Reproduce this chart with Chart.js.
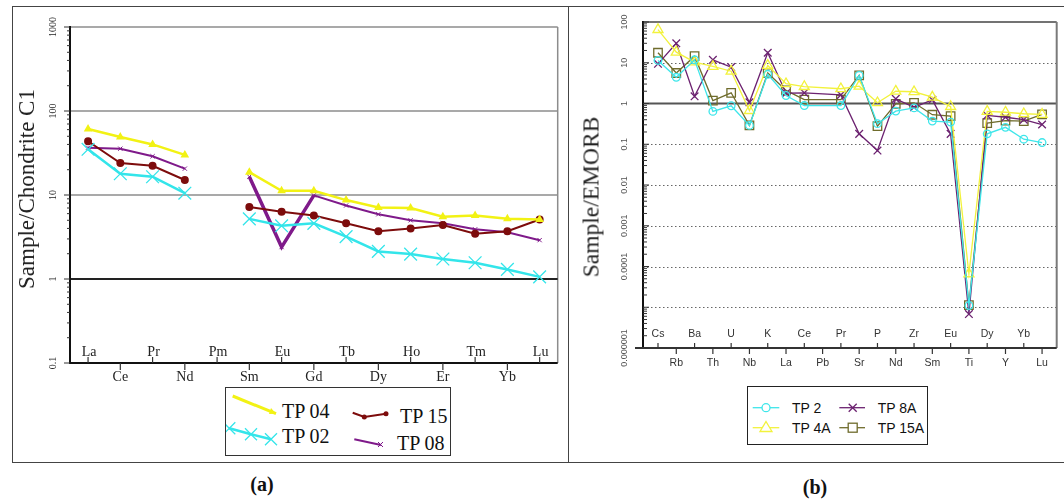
<!DOCTYPE html>
<html>
<head>
<meta charset="utf-8">
<script src="https://cdn.jsdelivr.net/npm/chart.js@4.4.1/dist/chart.umd.min.js"></script>
<style>
body{margin:0;width:1064px;height:503px;background:#fff;position:relative;overflow:hidden;font-family:"Liberation Serif",serif;color:#111;}
.ln{position:absolute;background:#444;}
.box{position:absolute;}
.ytitle{position:absolute;transform:translate(-50%,-50%) rotate(-90deg);white-space:nowrap;color:#222;}
.leg{position:absolute;border:1px solid #333;box-sizing:border-box;background:#fff;}
.leg svg{position:absolute;left:0;top:0;}
.leg span{position:absolute;white-space:nowrap;}
.cap{position:absolute;transform:translate(-50%,-50%);font-weight:bold;font-size:20px;}
</style>
</head>
<body>
<div class="ln" style="left:12px;top:6px;width:1052px;height:1px"></div>
<div class="ln" style="left:12px;top:6px;width:1px;height:457px"></div>
<div class="ln" style="left:568px;top:6px;width:1px;height:457px"></div>
<div class="ln" style="left:12px;top:462px;width:1052px;height:1px"></div>

<div class="box" style="left:13px;top:8px;width:555px;height:377px"><canvas id="ca"></canvas></div>
<div class="box" style="left:569px;top:8px;width:495px;height:372px"><canvas id="cb"></canvas></div>

<div class="ytitle" style="left:27px;top:189px;font-size:23px">Sample/Chondrite C1</div>
<div class="ytitle" style="left:591px;top:197px;font-size:23.5px">Sample/EMORB</div>

<div class="leg" style="left:225px;top:387px;width:226px;height:69px;font-size:20px">
  <svg width="226" height="69">
    <polyline points="6.7,8 50,25.7" stroke="#F2F214" stroke-width="3" fill="none"/>
    <polygon points="50,25.7 45,20 43,26" fill="#F2F214"/>
    <polyline points="3.3,40.3 25,46.3 45,51.3" stroke="#33E5EA" stroke-width="2.5" fill="none"/>
    <path d="M-2.7,34.3l12,12M9.3,34.3l-12,12M19,40.3l12,12M31,40.3l-12,12M39,45.3l12,12M51,45.3l-12,12" stroke="#33E5EA" stroke-width="1.3"/>
    <polyline points="126.7,24.7 138.3,29 160,25.7" stroke="#7D0C0C" stroke-width="2" fill="none"/>
    <circle cx="138.3" cy="29" r="2.5" fill="#7D0C0C"/>
    <circle cx="160" cy="25.7" r="2.5" fill="#7D0C0C"/>
    <polyline points="128.3,51.3 155,57" stroke="#7F1A8A" stroke-width="2" fill="none"/>
    <path d="M152,54l5,5M157,54l-5,5" stroke="#7F1A8A" stroke-width="1"/>
  </svg>
  <span style="left:56px;top:11px;line-height:24px">TP 04</span>
  <span style="left:56px;top:36px;line-height:24px">TP 02</span>
  <span style="left:174px;top:16px;line-height:24px">TP 15</span>
  <span style="left:171px;top:43px;line-height:24px">TP 08</span>
</div>

<div class="leg" style="left:747px;top:386px;width:181px;height:59px;font-family:'Liberation Sans',sans-serif;font-size:14px;border-color:#222">
  <svg width="181" height="59">
    <line x1="4.7" y1="20.7" x2="31.3" y2="20.7" stroke="#3EE6EA" stroke-width="1.3"/>
    <circle cx="18" cy="20.7" r="4" fill="#fff" stroke="#3EE6EA" stroke-width="1.3"/>
    <line x1="91.3" y1="20.7" x2="117" y2="20.7" stroke="#6C2270" stroke-width="1.3"/>
    <path d="M100.7,16.7l8,8M108.7,16.7l-8,8" stroke="#6C2270" stroke-width="1.3"/>
    <line x1="4.7" y1="40.7" x2="31.3" y2="40.7" stroke="#F2F23C" stroke-width="1.3"/>
    <polygon points="18,34.5 24,44.5 12,44.5" fill="#fff" stroke="#F2F23C" stroke-width="1.3"/>
    <line x1="91.3" y1="40.7" x2="117" y2="40.7" stroke="#6F6C2C" stroke-width="1.3"/>
    <rect x="100.2" y="36.2" width="9" height="9" fill="#fff" stroke="#6F6C2C" stroke-width="1.3"/>
  </svg>
  <span style="left:44px;top:12px;line-height:18px">TP 2</span>
  <span style="left:129.7px;top:12px;line-height:18px">TP 8A</span>
  <span style="left:44px;top:32px;line-height:18px">TP 4A</span>
  <span style="left:129.7px;top:32px;line-height:18px">TP 15A</span>
</div>

<div class="cap" style="left:262px;top:484px">(a)</div>
<div class="cap" style="left:815px;top:487px">(b)</div>

<script>
// (a) chondrite-normalised REE
const reeLabels = ['La', 'Ce', 'Pr', 'Nd', 'Pm', 'Sm', 'Eu', 'Gd', 'Tb', 'Dy', 'Ho', 'Er', 'Tm', 'Yb', 'Lu'];
const tp04 = [61, 49, 40, 30, null, 18.7, 11.2, 11.2, 8.7, 7.1, 7.0, 5.5, 5.7, 5.2, 5.1];
const tp02 = [35, 17.9, 16.5, 10.5, null, 5.2, 4.3, 4.6, 3.2, 2.13, 1.98, 1.73, 1.56, 1.30, 1.06];
const tp15 = [43.6, 24, 22.3, 15.1, null, 7.2, 6.3, 5.7, 4.6, 3.7, 4.0, 4.4, 3.46, 3.7, 5.1];
const tp08 = [36.6, 35.6, 28.9, 20.6, null, 16.5, 2.4, 9.9, 7.5, 5.9, 5.0, 4.6, 3.9, 3.6, 2.9];
const yTicksA = [0.1, 1, 10, 100, 1000];
const yTextA = ['0.1', '1', '10', '100', '1000'];

// (b) EMORB-normalised spider diagram
const traceLabels = ['Cs', 'Rb', 'Ba', 'Th', 'U', 'Nb', 'K', 'La', 'Ce', 'Pb', 'Pr', 'Sr', 'P', 'Nd', 'Zr', 'Sm', 'Eu', 'Ti', 'Dy', 'Y', 'Yb', 'Lu'];
const tp2 = [11.4, 4.4, 11.8, 0.64, 0.88, 0.29, 5.2, 1.57, 0.89, null, 0.89, 4.9, 0.32, 0.65, 0.78, 0.37, 0.35, 1.1e-5, 0.18, 0.26, 0.133, 0.11];
const tp4a = [65, 18.2, 10.4, 8.1, 6.2, 0.67, 8.6, 3.05, 2.6, null, 2.3, 2.66, 1.04, 2.0, 1.94, 1.43, 0.84, 6.6e-5, 0.64, 0.61, 0.56, 0.54];
const tp8a = [9.4, 30, 1.5, 11.8, 7.8, 1.07, 17.6, 1.79, 1.83, null, 1.63, 0.18, 0.07, 1.3, 0.81, 1.23, 0.18, 6.8e-6, 0.51, 0.46, 0.40, 0.305];
const tp15a = [17.6, 5.6, 14.5, 1.18, 1.83, 0.29, 5.6, 2.09, 1.25, null, 1.25, 4.9, 0.277, 0.98, 1.04, 0.53, 0.49, 1.13e-5, 0.33, 0.38, 0.37, 0.54];
const yTicksB = [1e-6, 1e-5, 1e-4, 1e-3, 0.01, 0.1, 1, 10, 100];
const yTextB = ['0.000001', '', '0.0001', '0.001', '0.01', '0.1', '1', '10', '100'];

const pts = arr => arr.map((v, i) => ({x: i, y: v}));

function line(ctx, x1, y1, x2, y2) {
    ctx.beginPath();
    ctx.moveTo(x1, y1);
    ctx.lineTo(x2, y2);
    ctx.stroke();
}

const axesA = {
    id: 'axesA',
    beforeDatasetsDraw(chart) {
        const {ctx, chartArea: a, scales: {x, y}} = chart;
        ctx.save();
        ctx.strokeStyle = '#8c8c8c';
        ctx.lineWidth = 1.5;
        [10, 100, 1000].forEach(v => {
            const py = y.getPixelForValue(v);
            line(ctx, a.left, py, a.right, py);
        });
        line(ctx, a.right, a.top, a.right, a.bottom);
        ctx.strokeStyle = '#222';
        ctx.lineWidth = 2;
        const p1 = y.getPixelForValue(1);
        line(ctx, a.left, p1, a.right, p1);
        ctx.restore();
    },
    afterDatasetsDraw(chart) {
        const {ctx, chartArea: a, scales: {x, y}} = chart;
        ctx.save();
        ctx.strokeStyle = '#111';
        ctx.lineWidth = 2;
        line(ctx, a.left, a.top - 1, a.left, a.bottom + 1);
        line(ctx, a.left, a.bottom, a.right, a.bottom);
        // minor log ticks, outside
        ctx.lineWidth = 1;
        ctx.strokeStyle = '#333';
        [0.1, 1, 10, 100].forEach(d => {
            for (let m = 2; m <= 9; m++) {
                const py = y.getPixelForValue(d * m);
                line(ctx, a.left - 3, py, a.left, py);
            }
        });
        ctx.fillStyle = '#222';
        ctx.font = '10px "Liberation Serif"';
        ctx.textAlign = 'center';
        ctx.textBaseline = 'middle';
        yTicksA.forEach((v, i) => {
            const py = y.getPixelForValue(v);
            line(ctx, a.left - 6, py, a.left, py);
            ctx.save();
            ctx.translate(a.left - 17, py);
            ctx.rotate(-Math.PI / 2);
            ctx.fillText(yTextA[i], 0, 0);
            ctx.restore();
        });
        ctx.font = '14px "Liberation Serif"';
        ctx.lineWidth = 1.2;
        reeLabels.forEach((lab, i) => {
            const px = x.getPixelForValue(i);
            if (i % 2 === 0) {
                line(ctx, px, a.bottom, px, a.bottom - 6);
                ctx.fillText(lab, px + 1, a.bottom - 11);
            } else {
                line(ctx, px, a.bottom, px, a.bottom + 7);
                ctx.fillText(lab, px, a.bottom + 14);
            }
        });
        ctx.restore();
    }
};

const axesB = {
    id: 'axesB',
    beforeDatasetsDraw(chart) {
        const {ctx, chartArea: a, scales: {x, y}} = chart;
        ctx.save();
        ctx.strokeStyle = '#666';
        ctx.lineWidth = 1;
        ctx.setLineDash([1.5, 2.5]);
        [10, 0.1, 0.01, 1e-3, 1e-4, 1e-5].forEach(v => {
            const py = Math.round(y.getPixelForValue(v)) + 0.5;
            line(ctx, a.left, py, a.right, py);
        });
        ctx.setLineDash([]);
        ctx.strokeStyle = '#555';
        ctx.lineWidth = 2;
        const p1 = y.getPixelForValue(1);
        line(ctx, a.left, p1, a.right, p1);
        ctx.strokeStyle = '#444';
        ctx.lineWidth = 1.5;
        line(ctx, a.left, a.top, a.right, a.top);
        ctx.strokeStyle = '#7a7a7a';
        ctx.lineWidth = 2;
        line(ctx, a.right, a.top, a.right, a.bottom);
        ctx.restore();
    },
    afterDatasetsDraw(chart) {
        const {ctx, chartArea: a, scales: {x, y}} = chart;
        ctx.save();
        ctx.strokeStyle = '#111';
        ctx.lineWidth = 2;
        line(ctx, a.left, a.top - 1, a.left, a.bottom + 1);
        ctx.strokeStyle = '#333';
        line(ctx, a.left - 8, a.bottom, a.right, a.bottom);
        // minor log ticks, inside
        ctx.lineWidth = 1;
        yTicksB.slice(0, -1).forEach(d => {
            for (let m = 2; m <= 9; m++) {
                const py = y.getPixelForValue(d * m);
                line(ctx, a.left, py, a.left + 4, py);
            }
        });
        ctx.fillStyle = '#555';
        ctx.font = '9px "Liberation Sans"';
        ctx.textAlign = 'center';
        ctx.textBaseline = 'middle';
        yTicksB.forEach((v, i) => {
            const py = y.getPixelForValue(v);
            line(ctx, a.left, py, a.left + 6, py);
            ctx.save();
            ctx.translate(a.left - 18, py);
            ctx.rotate(-Math.PI / 2);
            ctx.fillText(yTextB[i], 0, 0);
            ctx.restore();
        });
        ctx.fillStyle = '#333';
        ctx.font = '10.5px "Liberation Sans"';
        ctx.lineWidth = 1.2;
        traceLabels.forEach((lab, i) => {
            const px = x.getPixelForValue(i);
            if (i % 2 === 0) {
                line(ctx, px, a.bottom, px, a.bottom - 5);
                ctx.fillText(lab, px, a.bottom - 13.5);
            } else {
                line(ctx, px, a.bottom, px, a.bottom + 6);
                ctx.fillText(lab, px, a.bottom + 15);
            }
        });
        ctx.restore();
    }
};

const hiddenScales = (xmin, xmax, ymin, ymax, yw, xh) => ({
    x: {type: 'linear', min: xmin, max: xmax, ticks: {display: false}, grid: {display: false}, border: {display: false},
        afterFit: s => { s.height = xh; }},
    y: {type: 'logarithmic', min: ymin, max: ymax, ticks: {display: false}, grid: {display: false}, border: {display: false},
        afterFit: s => { s.width = yw; }}
});

const configA = {
    type: 'line',
    data: {
        datasets: [{
            label: 'TP 04',
            data: pts(tp04),
            borderColor: '#F2F214',
            backgroundColor: '#F2F214',
            borderWidth: 2.5,
            pointStyle: 'triangle',
            pointRadius: 2.5
        }, {
            label: 'TP 02',
            data: pts(tp02),
            borderColor: '#33E5EA',
            backgroundColor: '#33E5EA',
            borderWidth: 2.5,
            pointStyle: 'crossRot',
            pointRadius: 9,
            pointBorderWidth: 1.3
        }, {
            label: 'TP 15',
            data: pts(tp15),
            borderColor: '#7D0C0C',
            backgroundColor: '#7D0C0C',
            borderWidth: 2,
            pointStyle: 'circle',
            pointRadius: 3
        }, {
            label: 'TP 08',
            data: pts(tp08),
            borderColor: '#7F1A8A',
            backgroundColor: '#7F1A8A',
            borderWidth: 2,
            pointStyle: 'crossRot',
            pointRadius: 3,
            pointBorderWidth: 1,
            segment: {borderWidth: c => (c.p0DataIndex === 5 || c.p0DataIndex === 6) ? 3.5 : 2}
        }]
    },
    options: {
        responsive: true,
        maintainAspectRatio: false,
        animation: false,
        spanGaps: false,
        layout: {padding: {top: 19, right: 10, left: 0, bottom: 0}},
        scales: hiddenScales(-0.56, 14.56, 0.1, 1000, 57, 22),
        plugins: {legend: {display: false}, tooltip: {enabled: false}}
    },
    plugins: [axesA]
};

const mkB = (label, arr, color, style, r) => ({
    label: label,
    data: pts(arr),
    borderColor: color,
    backgroundColor: 'rgba(255,255,255,0)',
    borderWidth: 1.3,
    pointStyle: style,
    pointRadius: r,
    pointBorderWidth: 1.3
});

const configB = {
    type: 'line',
    data: {
        datasets: [
            mkB('TP 2', tp2, '#3EE6EA', 'circle', 3.8),
            mkB('TP 4A', tp4a, '#F2F23C', 'triangle', 5.8),
            mkB('TP 8A', tp8a, '#6C2270', 'crossRot', 5.4),
            mkB('TP 15A', tp15a, '#6F6C2C', 'rect', 6)
        ]
    },
    options: {
        responsive: true,
        maintainAspectRatio: false,
        animation: false,
        spanGaps: true,
        layout: {padding: {top: 14, right: 7, left: 0, bottom: 0}},
        scales: hiddenScales(-0.82, 21.8, 1e-6, 100, 74, 32),
        plugins: {legend: {display: false}, tooltip: {enabled: false}}
    },
    plugins: [axesB]
};

const chartA = new Chart(document.querySelector('#ca'), configA);
const chartB = new Chart(document.querySelector('#cb'), configB);
</script>
</body>
</html>
